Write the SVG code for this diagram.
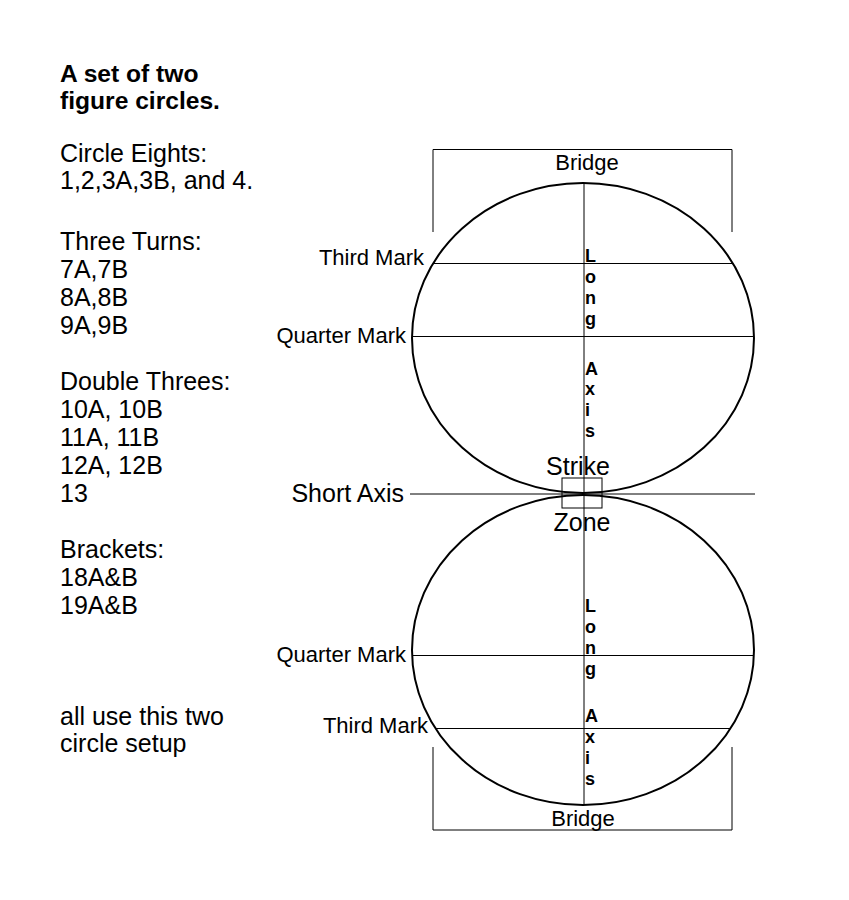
<svg xmlns="http://www.w3.org/2000/svg" width="849" height="900" viewBox="0 0 849 900">
<style>
text{font-family:"Liberation Sans",Arial,sans-serif;fill:#000}
.side{font-size:25px}
.title{font-size:24.6px;font-weight:bold}
.lbl{font-size:22px}
.big{font-size:25px}
.ax{font-size:18px;font-weight:bold}
.ell{fill:none;stroke:#000;stroke-width:2}
.ln{stroke:#000;stroke-width:1;fill:none}
</style>
<rect width="849" height="900" fill="#fff"/>
<g id="side-notes">
<text class="title" x="60" y="82">A set of two</text>
<text class="title" x="60" y="109">figure circles.</text>
<text class="side" x="60" y="162">Circle Eights:</text>
<text class="side" x="60" y="189">1,2,3A,3B, and 4.</text>
<text class="side" x="60" y="250">Three Turns:</text>
<text class="side" x="60" y="278">7A,7B</text>
<text class="side" x="60" y="306">8A,8B</text>
<text class="side" x="60" y="334">9A,9B</text>
<text class="side" x="60" y="390">Double Threes:</text>
<text class="side" x="60" y="418">10A, 10B</text>
<text class="side" x="60" y="446">11A, 11B</text>
<text class="side" x="60" y="474">12A, 12B</text>
<text class="side" x="60" y="502">13</text>
<text class="side" x="60" y="558">Brackets:</text>
<text class="side" x="60" y="586">18A&amp;B</text>
<text class="side" x="60" y="614">19A&amp;B</text>
<text class="side" x="60" y="725">all use this two</text>
<text class="side" x="60" y="752">circle setup</text>
</g>
<g id="top-circle">
<ellipse class="ell" cx="583" cy="338" rx="171" ry="155"/>
</g>
<g id="bottom-circle">
<ellipse class="ell" cx="583" cy="650" rx="171" ry="155"/>
</g>
<g id="strike-zone">
<rect x="562" y="478" width="40" height="30" fill="none" stroke="#000" stroke-width="1"/>
<text class="big" x="578" y="475" text-anchor="middle">Strike</text>
<text class="big" x="582" y="531" text-anchor="middle">Zone</text>
</g>
<g id="connectors">
<polyline class="ln" points="433,232 433,149.5 732,149.5 732,232"/>
<polyline class="ln" points="433,747 433,830 732,830 732,747"/>
<line class="ln" x1="584" y1="183" x2="584" y2="805"/>
<line class="ln" x1="433" y1="263.5" x2="733" y2="263.5"/>
<line class="ln" x1="412" y1="336.5" x2="754" y2="336.5"/>
<line class="ln" x1="410" y1="494" x2="755" y2="494"/>
<line class="ln" x1="412" y1="655.5" x2="754" y2="655.5"/>
<line class="ln" x1="435" y1="728.5" x2="731" y2="728.5"/>
</g>
<g id="labels">
<text class="lbl" x="587" y="170" text-anchor="middle">Bridge</text>
<text class="lbl" x="583" y="826" text-anchor="middle">Bridge</text>
<text class="lbl" x="424" y="265" text-anchor="end">Third Mark</text>
<text class="lbl" x="406" y="343" text-anchor="end">Quarter Mark</text>
<text class="big" x="404" y="502" text-anchor="end">Short Axis</text>
<text class="lbl" x="406" y="662" text-anchor="end">Quarter Mark</text>
<text class="lbl" x="428" y="733" text-anchor="end">Third Mark</text>
</g>
<g id="long-axis-top">
<text class="ax" x="585" y="262">L</text>
<text class="ax" x="585" y="283">o</text>
<text class="ax" x="585" y="304">n</text>
<text class="ax" x="585" y="325">g</text>
<text class="ax" x="585" y="375">A</text>
<text class="ax" x="585" y="395">x</text>
<text class="ax" x="585" y="416">i</text>
<text class="ax" x="585" y="437">s</text>
</g>
<g id="long-axis-bottom">
<text class="ax" x="585" y="612">L</text>
<text class="ax" x="585" y="633">o</text>
<text class="ax" x="585" y="654">n</text>
<text class="ax" x="585" y="675">g</text>
<text class="ax" x="585" y="722">A</text>
<text class="ax" x="585" y="743">x</text>
<text class="ax" x="585" y="764">i</text>
<text class="ax" x="585" y="785">s</text>
</g>
</svg>
